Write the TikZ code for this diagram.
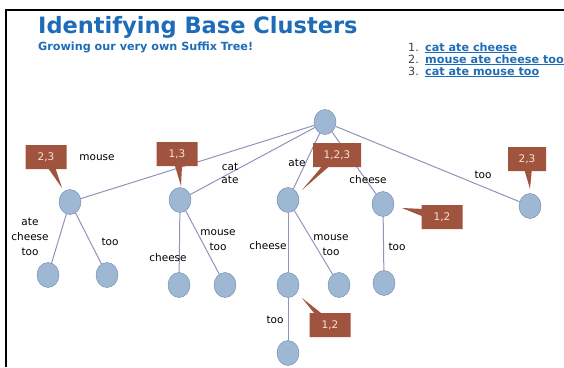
\documentclass[tikz,border=0pt]{standalone}
\usepackage{fontspec}
\setmainfont{DejaVu Sans}
\usetikzlibrary{shapes.geometric,shapes.callouts}
\definecolor{titleblue}{RGB}{30,108,184}
\definecolor{nodefill}{RGB}{158,184,212}
\definecolor{nodeline}{RGB}{104,134,170}
\definecolor{linkline}{RGB}{146,146,188}
\definecolor{tallyfill}{RGB}{160,84,62}
\definecolor{tallytext}{RGB}{246,228,218}
\begin{document}
\begin{tikzpicture}[x=1pt,y=-1pt,
    vtx/.style={ellipse,draw=nodeline,fill=nodefill,minimum width=22pt,minimum height=25pt,inner sep=0pt},
    link/.style={draw=linkline,line width=1pt},
    lbl/.style={font=\fontsize{10.5}{15}\selectfont,align=center,inner sep=0pt},
    doc/.style={anchor=base west,inner sep=0pt,font=\bfseries\fontsize{11.2}{13}\selectfont,text=titleblue},
    num/.style={anchor=base west,inner sep=0pt,font=\fontsize{11.2}{13}\selectfont,text=black!75},
    callbox/.style={rectangle callout,fill=tallyfill,text=tallytext,font=\fontsize{10.5}{12}\selectfont,
        minimum width=41pt,minimum height=24pt,inner sep=1pt,callout pointer width=7pt}]
    \useasboundingbox (0,0) rectangle (564,367);

    % Frame
    \draw[line width=2.5pt] (6,367) -- (6,10) -- (564,10);

    % Heading
    \node[anchor=base west,inner sep=0pt,text=titleblue,font=\bfseries\fontsize{22.5}{27}\selectfont] (title) at (38,33) {Identifying Base Clusters};
    \node[anchor=base west,inner sep=0pt,text=titleblue,font=\bfseries\fontsize{11.2}{13}\selectfont] (subtitle) at (38,50) {Growing our very own Suffix Tree!};

    % Documents
    \node[num] (num1) at (408,51) {1.};
    \node[num] (num2) at (408,63) {2.};
    \node[num] (num3) at (408,75) {3.};
    \node[doc] (doc1) at (425,51) {\underline{cat ate cheese}};
    \node[doc] (doc2) at (425,63) {\underline{mouse ate cheese too}};
    \node[doc] (doc3) at (425,75) {\underline{cat ate mouse too}};

    % Tree nodes
    \node[vtx] (root) at (325,122) {};
    \node[vtx] (mouse) at (70,202) {};
    \node[vtx] (catate) at (180,200) {};
    \node[vtx] (ate) at (288,200) {};
    \node[vtx] (cheese) at (383,204) {};
    \node[vtx] (too) at (530,206) {};
    \node[vtx] (mouse-ate) at (48,275) {};
    \node[vtx] (mouse-too) at (107,275) {};
    \node[vtx] (catate-cheese) at (179,285) {};
    \node[vtx] (catate-mouse) at (225,285) {};
    \node[vtx] (ate-cheese) at (288,285) {};
    \node[vtx] (ate-mouse) at (339,285) {};
    \node[vtx] (cheese-too) at (384,283) {};
    \node[vtx] (ate-cheese-too) at (288,353) {};

    % Branches
    \draw[link] (root) -- (mouse);
    \draw[link] (root) -- (catate);
    \draw[link] (root) -- (ate);
    \draw[link] (root) -- (cheese);
    \draw[link] (root) -- (too);
    \draw[link] (mouse) -- (mouse-ate);
    \draw[link] (mouse) -- (mouse-too);
    \draw[link] (catate) -- (catate-cheese);
    \draw[link] (catate) -- (catate-mouse);
    \draw[link] (ate) -- (ate-cheese);
    \draw[link] (ate) -- (ate-mouse);
    \draw[link] (cheese) -- (cheese-too);
    \draw[link] (ate-cheese) -- (ate-cheese-too);

    % Branch labels
    \node[lbl] (l-mouse) at (97,158) {mouse};
    \node[lbl,font=\fontsize{10.5}{13}\selectfont] (l-catate) at (230,173) {cat\\ate};
    \node[lbl] (l-ate) at (297,163) {ate};
    \node[lbl] (l-cheese) at (368,180) {cheese};
    \node[lbl] (l-too) at (483,175) {too};
    \node[lbl] (l-mouse-ate) at (30,237) {ate\\cheese\\too};
    \node[lbl] (l-mouse-too) at (110,242) {too};
    \node[lbl] (l-catate-cheese) at (168,258) {cheese};
    \node[lbl] (l-catate-mouse) at (218,240) {mouse\\too};
    \node[lbl] (l-ate-cheese) at (268,246) {cheese};
    \node[lbl] (l-ate-mouse) at (331,245) {mouse\\too};
    \node[lbl] (l-cheese-too) at (397,247) {too};
    \node[lbl] (l-ate-cheese-too) at (275,320) {too};

    % Document counts
    \node[callbox,callout absolute pointer={(62,188)}] (c-mouse) at (46,157) {2,3};
    \node[callbox,callout absolute pointer={(181,186)}] (c-catate) at (177,154) {1,3};
    \node[callbox,minimum width=48pt,callout absolute pointer={(302,190)}] (c-ate) at (337,155) {1,2,3};
    \node[callbox,minimum width=38pt,callout absolute pointer={(530,189)}] (c-too) at (527,159) {2,3};
    \node[callbox,callout absolute pointer={(402,208)}] (c-cheese) at (442,217) {1,2};
    \node[callbox,callout absolute pointer={(302,298)}] (c-ate-cheese) at (330,325) {1,2};
\end{tikzpicture}
\end{document}
